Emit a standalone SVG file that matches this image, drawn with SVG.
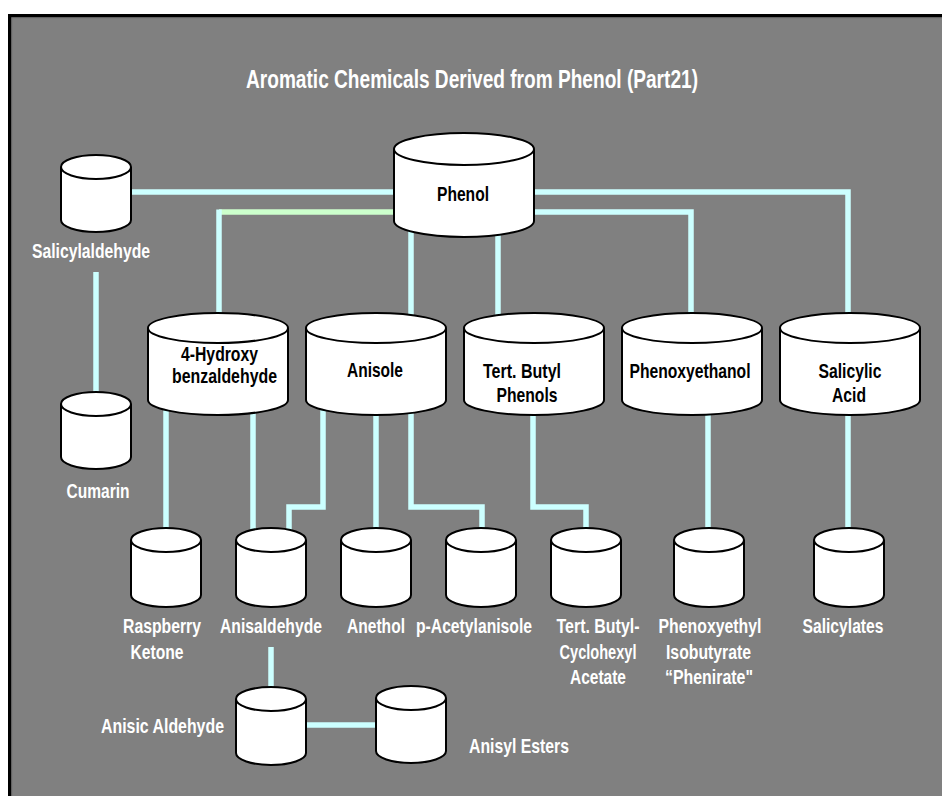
<svg xmlns="http://www.w3.org/2000/svg" width="942" height="796" viewBox="0 0 942 796">
  <style>
    .bg { fill: #808080; }
    .cyl { fill: #ffffff; stroke: #000000; stroke-width: 2; }
    .link { fill: none; stroke: #ccffff; stroke-width: 5.5; stroke-linejoin: miter; }
    .link-green { fill: none; stroke: #ccffcc; stroke-width: 5.5; }
    text { font-family: "Liberation Sans Narrow", "Liberation Sans", Arial, sans-serif; font-weight: bold; text-anchor: middle; }
    .in { fill: #000000; font-size: 21px; }
    .out { fill: #ffffff; font-size: 21px; }
    .small { fill: #ffffff; font-size: 19px; }
    .title { fill: #ffffff; font-size: 26px; }
  </style>

  <!-- page frame -->
  <rect x="0" y="0" width="942" height="796" fill="#ffffff"/>
  <rect class="bg" x="8" y="14" width="940" height="790"/>
  <rect x="9.75" y="15.75" width="940" height="790" fill="none" stroke="#000000" stroke-width="3.5"/>
  <rect x="11.75" y="17.75" width="936" height="786" fill="none" stroke="#6c6c6c" stroke-width="1"/>

  <text class="title" x="472" y="88" textLength="452" lengthAdjust="spacingAndGlyphs">Aromatic Chemicals Derived from Phenol (Part21)</text>

  <!-- connectors -->
  <g id="connectors">
    <path class="link" d="M131 192 H394"/>
    <path class="link" d="M534 192 H848 V330"/>
    <path class="link" d="M534 212 H691 V330"/>
    <path class="link-green" d="M394 212 H219"/>
    <path class="link" d="M219 209.5 V330"/>
    <path class="link" d="M411 225 V330"/>
    <path class="link" d="M498 225 V330"/>
    <path class="link" d="M96 272 V404"/>
    <path class="link" d="M166 405 V540"/>
    <path class="link" d="M253 405 V540"/>
    <path class="link" d="M323 405 V507 H289 V540"/>
    <path class="link" d="M376 405 V540"/>
    <path class="link" d="M411 405 V507 H482 V540"/>
    <path class="link" d="M533 405 V507 H586 V540"/>
    <path class="link" d="M708 405 V540"/>
    <path class="link" d="M848 405 V540"/>
    <path class="link" d="M271 647 V699"/>
    <path class="link" d="M306 725 H376"/>
  </g>

  <!-- top node -->
  <g id="phenol">
    <path class="cyl" d="M394 149 V221 A70 16 0 0 0 534 221 V149"/>
    <ellipse class="cyl" cx="464" cy="149" rx="70" ry="16"/>
    <text class="in" x="463" y="201" textLength="52" lengthAdjust="spacingAndGlyphs">Phenol</text>
  </g>

  <g id="salicylaldehyde">
    <path class="cyl" d="M61 167 V220 A35 12 0 0 0 131 220 V167"/>
    <ellipse class="cyl" cx="96" cy="167" rx="35" ry="12"/>
    <text class="out" x="91" y="258" textLength="118" lengthAdjust="spacingAndGlyphs">Salicylaldehyde</text>
  </g>

  <g id="cumarin">
    <path class="cyl" d="M61 404 V457 A35 12 0 0 0 131 457 V404"/>
    <ellipse class="cyl" cx="96" cy="404" rx="35" ry="12"/>
    <text class="out" x="98" y="498" textLength="63" lengthAdjust="spacingAndGlyphs">Cumarin</text>
  </g>

  <!-- second row -->
  <g id="hydroxybenzaldehyde">
    <path class="cyl" d="M148 328 V400 A70 15 0 0 0 288 400 V328"/>
    <ellipse class="cyl" cx="218" cy="328" rx="70" ry="15"/>
    <text class="in" x="219.5" y="361" textLength="77" lengthAdjust="spacingAndGlyphs">4-Hydroxy</text>
    <text class="in" x="224.5" y="383" textLength="105" lengthAdjust="spacingAndGlyphs">benzaldehyde</text>
  </g>

  <g id="anisole">
    <path class="cyl" d="M306 328 V400 A70 15 0 0 0 446 400 V328"/>
    <ellipse class="cyl" cx="376" cy="328" rx="70" ry="15"/>
    <text class="in" x="375" y="377" textLength="56" lengthAdjust="spacingAndGlyphs">Anisole</text>
  </g>

  <g id="tert-butyl-phenols">
    <path class="cyl" d="M464 328 V400 A70 15 0 0 0 604 400 V328"/>
    <ellipse class="cyl" cx="534" cy="328" rx="70" ry="15"/>
    <text class="in" x="522" y="378" textLength="78" lengthAdjust="spacingAndGlyphs">Tert. Butyl</text>
    <text class="in" x="527" y="402" textLength="61" lengthAdjust="spacingAndGlyphs">Phenols</text>
  </g>

  <g id="phenoxyethanol">
    <path class="cyl" d="M622 328 V400 A70 15 0 0 0 762 400 V328"/>
    <ellipse class="cyl" cx="692" cy="328" rx="70" ry="15"/>
    <text class="in" x="690" y="378" textLength="121" lengthAdjust="spacingAndGlyphs">Phenoxyethanol</text>
  </g>

  <g id="salicylic-acid">
    <path class="cyl" d="M780 328 V400 A70 15 0 0 0 920 400 V328"/>
    <ellipse class="cyl" cx="850" cy="328" rx="70" ry="15"/>
    <text class="in" x="850" y="378" textLength="63" lengthAdjust="spacingAndGlyphs">Salicylic</text>
    <text class="in" x="849" y="402" textLength="34" lengthAdjust="spacingAndGlyphs">Acid</text>
  </g>

  <!-- third row: labels are set a little smaller and stretched upward from their baselines -->
  <g id="raspberry-ketone">
    <path class="cyl" d="M131 540 V595 A35 12 0 0 0 201 595 V540"/>
    <ellipse class="cyl" cx="166" cy="540" rx="35" ry="12"/>
    <text class="small" x="162" y="633" transform="translate(0,-63.3) scale(1,1.1)" textLength="78" lengthAdjust="spacingAndGlyphs">Raspberry</text>
    <text class="small" x="157" y="659" transform="translate(0,-65.9) scale(1,1.1)" textLength="53" lengthAdjust="spacingAndGlyphs">Ketone</text>
  </g>

  <g id="anisaldehyde">
    <path class="cyl" d="M236 540 V595 A35 12 0 0 0 306 595 V540"/>
    <ellipse class="cyl" cx="271" cy="540" rx="35" ry="12"/>
    <text class="small" x="271" y="633" transform="translate(0,-63.3) scale(1,1.1)" textLength="102" lengthAdjust="spacingAndGlyphs">Anisaldehyde</text>
  </g>

  <g id="anethol">
    <path class="cyl" d="M341 540 V595 A35 12 0 0 0 411 595 V540"/>
    <ellipse class="cyl" cx="376" cy="540" rx="35" ry="12"/>
    <text class="small" x="376" y="633" transform="translate(0,-63.3) scale(1,1.1)" textLength="58" lengthAdjust="spacingAndGlyphs">Anethol</text>
  </g>

  <g id="p-acetylanisole">
    <path class="cyl" d="M446 540 V595 A35 12 0 0 0 516 595 V540"/>
    <ellipse class="cyl" cx="481" cy="540" rx="35" ry="12"/>
    <text class="small" x="474" y="633" transform="translate(0,-63.3) scale(1,1.1)" textLength="116" lengthAdjust="spacingAndGlyphs">p-Acetylanisole</text>
  </g>

  <g id="tert-butylcyclohexyl-acetate">
    <path class="cyl" d="M551 540 V595 A35 12 0 0 0 621 595 V540"/>
    <ellipse class="cyl" cx="586" cy="540" rx="35" ry="12"/>
    <text class="small" x="598" y="633" transform="translate(0,-63.3) scale(1,1.1)" textLength="83" lengthAdjust="spacingAndGlyphs">Tert. Butyl-</text>
    <text class="small" x="598" y="659" transform="translate(0,-65.9) scale(1,1.1)" textLength="77" lengthAdjust="spacingAndGlyphs">Cyclohexyl</text>
    <text class="small" x="598" y="684" transform="translate(0,-68.4) scale(1,1.1)" textLength="56" lengthAdjust="spacingAndGlyphs">Acetate</text>
  </g>

  <g id="phenoxyethyl-isobutyrate">
    <path class="cyl" d="M674 540 V595 A35 12 0 0 0 744 595 V540"/>
    <ellipse class="cyl" cx="709" cy="540" rx="35" ry="12"/>
    <text class="small" x="710" y="633" transform="translate(0,-63.3) scale(1,1.1)" textLength="103" lengthAdjust="spacingAndGlyphs">Phenoxyethyl</text>
    <text class="small" x="708.5" y="659" transform="translate(0,-65.9) scale(1,1.1)" textLength="85" lengthAdjust="spacingAndGlyphs">Isobutyrate</text>
    <text class="small" x="709" y="684" transform="translate(0,-68.4) scale(1,1.1)" textLength="88" lengthAdjust="spacingAndGlyphs">“Phenirate"</text>
  </g>

  <g id="salicylates">
    <path class="cyl" d="M814 540 V595 A35 12 0 0 0 884 595 V540"/>
    <ellipse class="cyl" cx="849" cy="540" rx="35" ry="12"/>
    <text class="small" x="843" y="633" transform="translate(0,-63.3) scale(1,1.1)" textLength="81" lengthAdjust="spacingAndGlyphs">Salicylates</text>
  </g>

  <!-- fourth row -->
  <g id="anisic-aldehyde">
    <path class="cyl" d="M236 699 V753 A35 12 0 0 0 306 753 V699"/>
    <ellipse class="cyl" cx="271" cy="699" rx="35" ry="12"/>
    <text class="out" x="162.5" y="733" textLength="123" lengthAdjust="spacingAndGlyphs">Anisic Aldehyde</text>
  </g>

  <g id="anisyl-esters">
    <path class="cyl" d="M376 698 V751 A35 12 0 0 0 446 751 V698"/>
    <ellipse class="cyl" cx="411" cy="698" rx="35" ry="12"/>
    <text class="out" x="519" y="753" textLength="100" lengthAdjust="spacingAndGlyphs">Anisyl Esters</text>
  </g>
</svg>
